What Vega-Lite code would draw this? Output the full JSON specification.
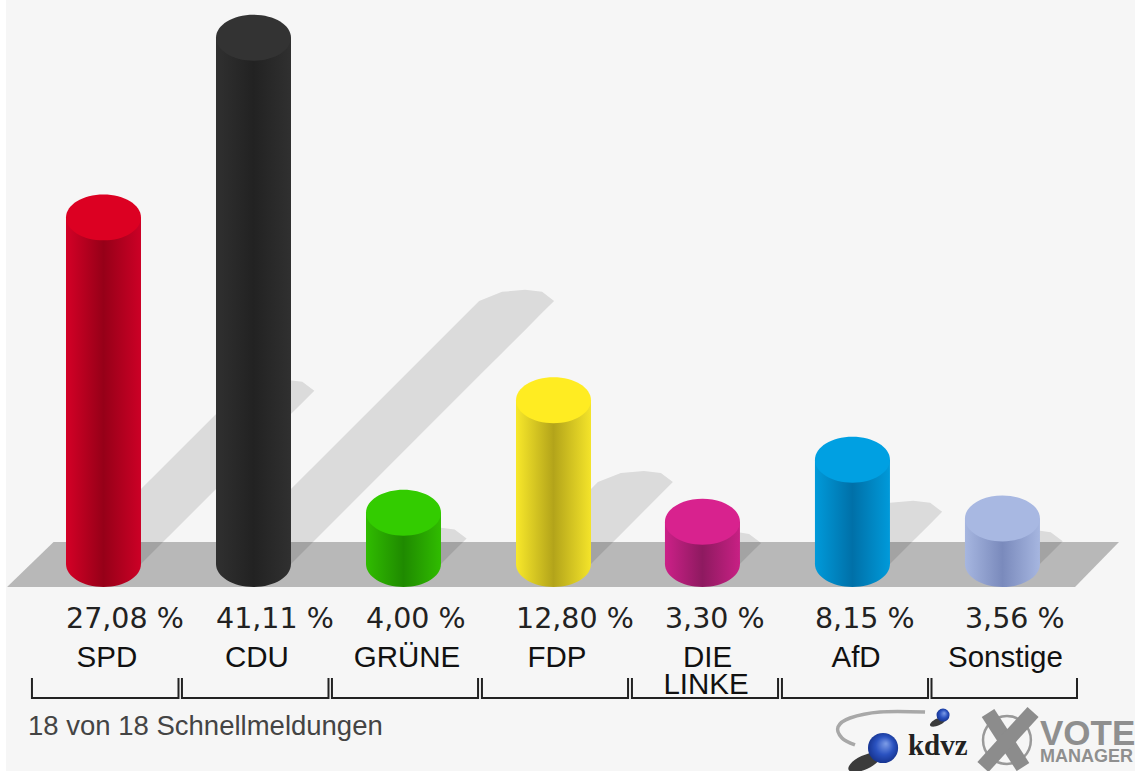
{"$schema":"https://vega.github.io/schema/vega-lite/v6.json","width":1135,"height":771,"padding":0,"autosize":{"type":"none"},"background":"#ffffff","view":{"stroke":null},
"config":{"axis":{"disable":true},"legend":{"disable":true},"text":{"font":"Liberation Sans"}},
"datasets":{
"parties":[{"party":"SPD","pos":0,"value":27.08,"base":0,"pct":"27,08 %"},{"party":"CDU","pos":1,"value":41.11,"base":0,"pct":"41,11 %"},{"party":"GRÜNE","pos":2,"value":4.0,"base":0,"pct":"4,00 %"},{"party":"FDP","pos":3,"value":12.8,"base":0,"pct":"12,80 %"},{"party":"DIE LINKE","pos":3.993,"value":3.3,"base":0,"pct":"3,30 %"},{"party":"AfD","pos":4.993,"value":8.15,"base":0,"pct":"8,15 %"},{"party":"Sonstige","pos":5.993,"value":3.56,"base":0,"pct":"3,56 %"}],
"shadows":[
{"g":"SPD","x":-0.25,"up":0,"lo":0},{"g":"SPD","x":0.25,"up":5.86,"lo":0},{"g":"SPD","x":0.9055,"up":13.54,"lo":7.68},{"g":"SPD","x":1.059,"up":14.24,"lo":9.48},{"g":"SPD","x":1.2125,"up":14.4,"lo":11.28},{"g":"SPD","x":1.3255,"up":14.24,"lo":12.6},{"g":"SPD","x":1.4055,"up":13.54,"lo":13.54},
{"g":"CDU","x":0.75,"up":0,"lo":0},{"g":"CDU","x":1.25,"up":5.86,"lo":0},{"g":"CDU","x":2.504,"up":20.555,"lo":14.7},{"g":"CDU","x":2.657,"up":21.26,"lo":16.49},{"g":"CDU","x":2.811,"up":21.42,"lo":18.29},{"g":"CDU","x":2.924,"up":21.26,"lo":19.62},{"g":"CDU","x":3.004,"up":20.555,"lo":20.555},
{"g":"GRÜNE","x":1.75,"up":0,"lo":0},{"g":"GRÜNE","x":1.9207,"up":2,"lo":0},{"g":"GRÜNE","x":2.074,"up":2.7,"lo":0},{"g":"GRÜNE","x":2.228,"up":2.86,"lo":0},{"g":"GRÜNE","x":2.25,"up":2.84,"lo":0},{"g":"GRÜNE","x":2.341,"up":2.7,"lo":1.07},{"g":"GRÜNE","x":2.4207,"up":2,"lo":2},
{"g":"FDP","x":2.75,"up":0,"lo":0},{"g":"FDP","x":3.25,"up":5.86,"lo":0},{"g":"FDP","x":3.296,"up":6.4,"lo":0.54},{"g":"FDP","x":3.449,"up":7.1,"lo":2.33},{"g":"FDP","x":3.603,"up":7.26,"lo":4.14},{"g":"FDP","x":3.716,"up":7.1,"lo":5.46},{"g":"FDP","x":3.796,"up":6.4,"lo":6.4},
{"g":"LINKE","x":3.743,"up":0,"lo":0},{"g":"LINKE","x":3.884,"up":1.65,"lo":0},{"g":"LINKE","x":4.037,"up":2.35,"lo":0},{"g":"LINKE","x":4.191,"up":2.51,"lo":0},{"g":"LINKE","x":4.243,"up":2.47,"lo":0},{"g":"LINKE","x":4.304,"up":2.35,"lo":0.72},{"g":"LINKE","x":4.384,"up":1.65,"lo":1.65},
{"g":"AfD","x":4.743,"up":0,"lo":0},{"g":"AfD","x":5.091,"up":4.075,"lo":0},{"g":"AfD","x":5.243,"up":4.78,"lo":0},{"g":"AfD","x":5.398,"up":4.935,"lo":1.81},{"g":"AfD","x":5.511,"up":4.78,"lo":3.13},{"g":"AfD","x":5.591,"up":4.075,"lo":4.075},
{"g":"Sonstige","x":5.743,"up":0,"lo":0},{"g":"Sonstige","x":5.895,"up":1.78,"lo":0},{"g":"Sonstige","x":6.048,"up":2.48,"lo":0},{"g":"Sonstige","x":6.202,"up":2.64,"lo":0},{"g":"Sonstige","x":6.243,"up":2.6,"lo":0},{"g":"Sonstige","x":6.315,"up":2.48,"lo":0.84},{"g":"Sonstige","x":6.395,"up":1.78,"lo":1.78}],
"floor":[{"x":-0.643,"up":-1.797,"lo":-1.797},{"x":-0.333,"up":1.719,"lo":-1.797},{"x":6.477,"up":1.719,"lo":-1.797},{"x":6.77,"up":1.719,"lo":1.719}],
"brackets":[
{"g":0,"o":0,"x":-0.477,"y":-8.906},{"g":0,"o":1,"x":-0.477,"y":-10.469},{"g":0,"o":2,"x":0.5,"y":-10.469},{"g":0,"o":3,"x":0.5,"y":-8.906},
{"g":1,"o":0,"x":0.523,"y":-8.906},{"g":1,"o":1,"x":0.523,"y":-10.469},{"g":1,"o":2,"x":1.5,"y":-10.469},{"g":1,"o":3,"x":1.5,"y":-8.906},
{"g":2,"o":0,"x":1.523,"y":-8.906},{"g":2,"o":1,"x":1.523,"y":-10.469},{"g":2,"o":2,"x":2.497,"y":-10.469},{"g":2,"o":3,"x":2.497,"y":-8.906},
{"g":3,"o":0,"x":2.523,"y":-8.906},{"g":3,"o":1,"x":2.523,"y":-10.469},{"g":3,"o":2,"x":3.497,"y":-10.469},{"g":3,"o":3,"x":3.497,"y":-8.906},
{"g":4,"o":0,"x":3.523,"y":-8.906},{"g":4,"o":1,"x":3.523,"y":-10.469},{"g":4,"o":2,"x":4.497,"y":-10.469},{"g":4,"o":3,"x":4.497,"y":-8.906},
{"g":5,"o":0,"x":4.523,"y":-8.906},{"g":5,"o":1,"x":4.523,"y":-10.469},{"g":5,"o":2,"x":5.497,"y":-10.469},{"g":5,"o":3,"x":5.497,"y":-8.906},
{"g":6,"o":0,"x":5.52,"y":-8.906},{"g":6,"o":1,"x":5.52,"y":-10.469},{"g":6,"o":2,"x":6.49,"y":-10.469},{"g":6,"o":3,"x":6.49,"y":-8.906}],
"names":[{"t":"SPD","x":0.023,"y":-8.05},{"t":"CDU","x":1.023,"y":-8.05},{"t":"GRÜNE","x":2.023,"y":-8.05},{"t":"FDP","x":3.023,"y":-8.05},{"t":"DIE","x":4.027,"y":-8.05},{"t":"LINKE","x":4.017,"y":-10.16},{"t":"AfD","x":5.017,"y":-8.05},{"t":"Sonstige","x":6.013,"y":-8.05}],
"xmark":[{"g":0,"o":0,"x":5.897,"y":-11.64},{"g":0,"o":1,"x":6.13,"y":-15.86},{"g":1,"o":0,"x":6.197,"y":-11.56},{"g":1,"o":1,"x":5.863,"y":-15.86}],
"swoosh":[{"o":0,"x":5.477,"y":-11.56},{"o":1,"x":5.177,"y":-11.56},{"o":2,"x":4.977,"y":-12.03},{"o":3,"x":4.897,"y":-12.73},{"o":4,"x":4.923,"y":-13.59},{"o":5,"x":5.01,"y":-14.14}]
},
"encoding":{"x":{"type":"quantitative","scale":{"domain":[-0.69,6.8767],"range":[0,1135],"nice":false,"zero":false,"padding":0},"axis":null},"y":{"type":"quantitative","scale":{"domain":[-16.171875,44.0625],"range":[771,0],"nice":false,"zero":false},"axis":null}},
"layer":[
{"data":{"values":[{"a":-0.65,"b":6.8767,"c":-16.171875,"d":44.0625}]},"mark":{"type":"rect","fill":"#f6f6f6"},"encoding":{"x":{"field":"a"},"x2":{"field":"b"},"y":{"field":"c"},"y2":{"field":"d"}}},
{"data":{"name":"floor"},"mark":{"type":"area","fill":"#b8b8b8","orient":"vertical"},"encoding":{"x":{"field":"x"},"y":{"field":"up"},"y2":{"field":"lo"}}},
{"data":{"name":"shadows"},"mark":{"type":"area","fill":"#000000","fillOpacity":0.11,"orient":"vertical"},"encoding":{"x":{"field":"x"},"y":{"field":"up"},"y2":{"field":"lo"},"detail":{"field":"g"}}},

{"data":{"name":"parties"},"transform":[{"filter":"datum.party==='SPD'"}],"layer":[
{"mark":{"type":"point","filled":true,"opacity":1,"size":5625,"shape":"M-1,0A1,0.613 0 1 0 1,0A1,0.613 0 1 0 -1,0Z","fill":{"gradient":"linear","x1":0,"x2":1,"y1":0,"y2":0,"stops":[{"offset":0,"color":"#d40026"},{"offset":0.5,"color":"#960018"},{"offset":1,"color":"#cc0026"}]}},"encoding":{"x":{"field":"pos"},"y":{"field":"base"}}},
{"mark":{"type":"bar","width":75,"orient":"vertical","fill":{"gradient":"linear","x1":0,"x2":1,"y1":0,"y2":0,"stops":[{"offset":0,"color":"#d40026"},{"offset":0.5,"color":"#960018"},{"offset":1,"color":"#cc0026"}]}},"encoding":{"x":{"field":"pos"},"y":{"field":"value"},"y2":{"field":"base"}}},
{"mark":{"type":"point","filled":true,"opacity":1,"size":5625,"shape":"M-1,0A1,0.613 0 1 0 1,0A1,0.613 0 1 0 -1,0Z","fill":"#dc0022"},"encoding":{"x":{"field":"pos"},"y":{"field":"value"}}}]},

{"data":{"name":"parties"},"transform":[{"filter":"datum.party==='CDU'"}],"layer":[
{"mark":{"type":"point","filled":true,"opacity":1,"size":5625,"shape":"M-1,0A1,0.613 0 1 0 1,0A1,0.613 0 1 0 -1,0Z","fill":{"gradient":"linear","x1":0,"x2":1,"y1":0,"y2":0,"stops":[{"offset":0,"color":"#303030"},{"offset":0.5,"color":"#222222"},{"offset":1,"color":"#303030"}]}},"encoding":{"x":{"field":"pos"},"y":{"field":"base"}}},
{"mark":{"type":"bar","width":75,"orient":"vertical","fill":{"gradient":"linear","x1":0,"x2":1,"y1":0,"y2":0,"stops":[{"offset":0,"color":"#303030"},{"offset":0.5,"color":"#222222"},{"offset":1,"color":"#303030"}]}},"encoding":{"x":{"field":"pos"},"y":{"field":"value"},"y2":{"field":"base"}}},
{"mark":{"type":"point","filled":true,"opacity":1,"size":5625,"shape":"M-1,0A1,0.613 0 1 0 1,0A1,0.613 0 1 0 -1,0Z","fill":"#333333"},"encoding":{"x":{"field":"pos"},"y":{"field":"value"}}}]},

{"data":{"name":"parties"},"transform":[{"filter":"datum.party==='GRÜNE'"}],"layer":[
{"mark":{"type":"point","filled":true,"opacity":1,"size":5625,"shape":"M-1,0A1,0.613 0 1 0 1,0A1,0.613 0 1 0 -1,0Z","fill":{"gradient":"linear","x1":0,"x2":1,"y1":0,"y2":0,"stops":[{"offset":0,"color":"#30bc00"},{"offset":0.5,"color":"#1f8a00"},{"offset":1,"color":"#30bc00"}]}},"encoding":{"x":{"field":"pos"},"y":{"field":"base"}}},
{"mark":{"type":"bar","width":75,"orient":"vertical","fill":{"gradient":"linear","x1":0,"x2":1,"y1":0,"y2":0,"stops":[{"offset":0,"color":"#30bc00"},{"offset":0.5,"color":"#1f8a00"},{"offset":1,"color":"#30bc00"}]}},"encoding":{"x":{"field":"pos"},"y":{"field":"value"},"y2":{"field":"base"}}},
{"mark":{"type":"point","filled":true,"opacity":1,"size":5625,"shape":"M-1,0A1,0.613 0 1 0 1,0A1,0.613 0 1 0 -1,0Z","fill":"#33cc00"},"encoding":{"x":{"field":"pos"},"y":{"field":"value"}}}]},

{"data":{"name":"parties"},"transform":[{"filter":"datum.party==='FDP'"}],"layer":[
{"mark":{"type":"point","filled":true,"opacity":1,"size":5625,"shape":"M-1,0A1,0.613 0 1 0 1,0A1,0.613 0 1 0 -1,0Z","fill":{"gradient":"linear","x1":0,"x2":1,"y1":0,"y2":0,"stops":[{"offset":0,"color":"#f8e82a"},{"offset":0.5,"color":"#b3a41a"},{"offset":1,"color":"#f4e42a"}]}},"encoding":{"x":{"field":"pos"},"y":{"field":"base"}}},
{"mark":{"type":"bar","width":75,"orient":"vertical","fill":{"gradient":"linear","x1":0,"x2":1,"y1":0,"y2":0,"stops":[{"offset":0,"color":"#f8e82a"},{"offset":0.5,"color":"#b3a41a"},{"offset":1,"color":"#f4e42a"}]}},"encoding":{"x":{"field":"pos"},"y":{"field":"value"},"y2":{"field":"base"}}},
{"mark":{"type":"point","filled":true,"opacity":1,"size":5625,"shape":"M-1,0A1,0.613 0 1 0 1,0A1,0.613 0 1 0 -1,0Z","fill":"#ffec22"},"encoding":{"x":{"field":"pos"},"y":{"field":"value"}}}]},

{"data":{"name":"parties"},"transform":[{"filter":"datum.party==='DIE LINKE'"}],"layer":[
{"mark":{"type":"point","filled":true,"opacity":1,"size":5625,"shape":"M-1,0A1,0.613 0 1 0 1,0A1,0.613 0 1 0 -1,0Z","fill":{"gradient":"linear","x1":0,"x2":1,"y1":0,"y2":0,"stops":[{"offset":0,"color":"#cc2088"},{"offset":0.5,"color":"#8e1a60"},{"offset":1,"color":"#c82084"}]}},"encoding":{"x":{"field":"pos"},"y":{"field":"base"}}},
{"mark":{"type":"bar","width":75,"orient":"vertical","fill":{"gradient":"linear","x1":0,"x2":1,"y1":0,"y2":0,"stops":[{"offset":0,"color":"#cc2088"},{"offset":0.5,"color":"#8e1a60"},{"offset":1,"color":"#c82084"}]}},"encoding":{"x":{"field":"pos"},"y":{"field":"value"},"y2":{"field":"base"}}},
{"mark":{"type":"point","filled":true,"opacity":1,"size":5625,"shape":"M-1,0A1,0.613 0 1 0 1,0A1,0.613 0 1 0 -1,0Z","fill":"#d8228e"},"encoding":{"x":{"field":"pos"},"y":{"field":"value"}}}]},

{"data":{"name":"parties"},"transform":[{"filter":"datum.party==='AfD'"}],"layer":[
{"mark":{"type":"point","filled":true,"opacity":1,"size":5625,"shape":"M-1,0A1,0.613 0 1 0 1,0A1,0.613 0 1 0 -1,0Z","fill":{"gradient":"linear","x1":0,"x2":1,"y1":0,"y2":0,"stops":[{"offset":0,"color":"#009ada"},{"offset":0.5,"color":"#0070a8"},{"offset":1,"color":"#009ada"}]}},"encoding":{"x":{"field":"pos"},"y":{"field":"base"}}},
{"mark":{"type":"bar","width":75,"orient":"vertical","fill":{"gradient":"linear","x1":0,"x2":1,"y1":0,"y2":0,"stops":[{"offset":0,"color":"#009ada"},{"offset":0.5,"color":"#0070a8"},{"offset":1,"color":"#009ada"}]}},"encoding":{"x":{"field":"pos"},"y":{"field":"value"},"y2":{"field":"base"}}},
{"mark":{"type":"point","filled":true,"opacity":1,"size":5625,"shape":"M-1,0A1,0.613 0 1 0 1,0A1,0.613 0 1 0 -1,0Z","fill":"#00a0e2"},"encoding":{"x":{"field":"pos"},"y":{"field":"value"}}}]},

{"data":{"name":"parties"},"transform":[{"filter":"datum.party==='Sonstige'"}],"layer":[
{"mark":{"type":"point","filled":true,"opacity":1,"size":5625,"shape":"M-1,0A1,0.613 0 1 0 1,0A1,0.613 0 1 0 -1,0Z","fill":{"gradient":"linear","x1":0,"x2":1,"y1":0,"y2":0,"stops":[{"offset":0,"color":"#a6b6e0"},{"offset":0.5,"color":"#7a8abc"},{"offset":1,"color":"#a6b6e0"}]}},"encoding":{"x":{"field":"pos"},"y":{"field":"base"}}},
{"mark":{"type":"bar","width":75,"orient":"vertical","fill":{"gradient":"linear","x1":0,"x2":1,"y1":0,"y2":0,"stops":[{"offset":0,"color":"#a6b6e0"},{"offset":0.5,"color":"#7a8abc"},{"offset":1,"color":"#a6b6e0"}]}},"encoding":{"x":{"field":"pos"},"y":{"field":"value"},"y2":{"field":"base"}}},
{"mark":{"type":"point","filled":true,"opacity":1,"size":5625,"shape":"M-1,0A1,0.613 0 1 0 1,0A1,0.613 0 1 0 -1,0Z","fill":"#a8b8e2"},"encoding":{"x":{"field":"pos"},"y":{"field":"value"}}}]},

{"data":{"name":"parties"},"transform":[{"calculate":"datum.pos-0.25","as":"left"},{"calculate":"-5","as":"ly"}],"mark":{"type":"text","align":"left","baseline":"alphabetic","font":"DejaVu Sans","fontSize":28.5,"fill":"#222222"},"encoding":{"x":{"field":"left"},"y":{"field":"ly"},"text":{"field":"pct"}}},
{"data":{"name":"names"},"mark":{"type":"text","align":"center","baseline":"alphabetic","font":"Liberation Sans","fontSize":29.5,"fill":"#111111"},"encoding":{"x":{"field":"x"},"y":{"field":"y"},"text":{"field":"t"}}},
{"data":{"name":"brackets"},"mark":{"type":"line","stroke":"#222222","strokeWidth":2},"encoding":{"x":{"field":"x"},"y":{"field":"y"},"detail":{"field":"g"},"order":{"field":"o"}}},
{"data":{"values":[{"t":"18 von 18 Schnellmeldungen","x":-0.503,"y":-13.36}]},"mark":{"type":"text","align":"left","baseline":"alphabetic","font":"Liberation Sans","fontSize":27.5,"fill":"#444444"},"encoding":{"x":{"field":"x"},"y":{"field":"y"},"text":{"field":"t"}}},

{"data":{"name":"swoosh"},"mark":{"type":"line","stroke":"#a8a8a8","strokeWidth":3.5,"interpolate":"cardinal"},"encoding":{"x":{"field":"x"},"y":{"field":"y"},"order":{"field":"o"}}},
{"data":{"values":[{"x":5.073,"y":-15.5,"a":-25,"s":1225},{"x":5.563,"y":-12.34,"a":-25,"s":300}]},"mark":{"type":"point","filled":true,"opacity":0.85,"fill":"#1a1a1a","shape":"M-1,0A1,0.4 0 1 0 1,0A1,0.4 0 1 0 -1,0Z"},"encoding":{"x":{"field":"x"},"y":{"field":"y"},"angle":{"field":"a","type":"quantitative","scale":null},"size":{"field":"s","type":"quantitative","scale":null}}},
{"data":{"values":[{"x":5.197,"y":-14.375,"s":908},{"x":5.597,"y":-11.8,"s":170}]},"mark":{"type":"point","shape":"circle","filled":true,"opacity":1,"fill":{"gradient":"radial","x1":0.6,"y1":0.35,"r1":0,"x2":0.5,"y2":0.5,"r2":0.6,"stops":[{"offset":0,"color":"#7f9ee8"},{"offset":0.5,"color":"#2a52c0"},{"offset":1,"color":"#102a80"}]}},"encoding":{"x":{"field":"x"},"y":{"field":"y"},"size":{"field":"s","type":"quantitative","scale":null}}},
{"data":{"values":[{"t":"kdvz","x":5.363,"y":-14.92}]},"mark":{"type":"text","align":"left","baseline":"alphabetic","font":"Liberation Serif","fontWeight":"bold","fontSize":29,"fill":"#222222"},"encoding":{"x":{"field":"x"},"y":{"field":"y"},"text":{"field":"t"}}},
{"data":{"values":[{"x":6.023,"y":-13.75}]},"mark":{"type":"point","shape":"circle","filled":false,"opacity":1,"size":2290,"stroke":"#999999","strokeWidth":2.5},"encoding":{"x":{"field":"x"},"y":{"field":"y"}}},
{"data":{"name":"xmark"},"mark":{"type":"line","stroke":"#8c8c8c","strokeWidth":15},"encoding":{"x":{"field":"x"},"y":{"field":"y"},"detail":{"field":"g"},"order":{"field":"o"}}},
{"data":{"values":[{"t":"VOTE","x":6.243,"y":-14.14,"s":35},{"t":"MANAGER","x":6.243,"y":-15.47,"s":18}]},"mark":{"type":"text","align":"left","baseline":"alphabetic","font":"Liberation Sans","fontWeight":"bold","fill":"#8f8f8f"},"encoding":{"x":{"field":"x"},"y":{"field":"y"},"text":{"field":"t"},"size":{"field":"s","type":"quantitative","scale":null}}}
]}
